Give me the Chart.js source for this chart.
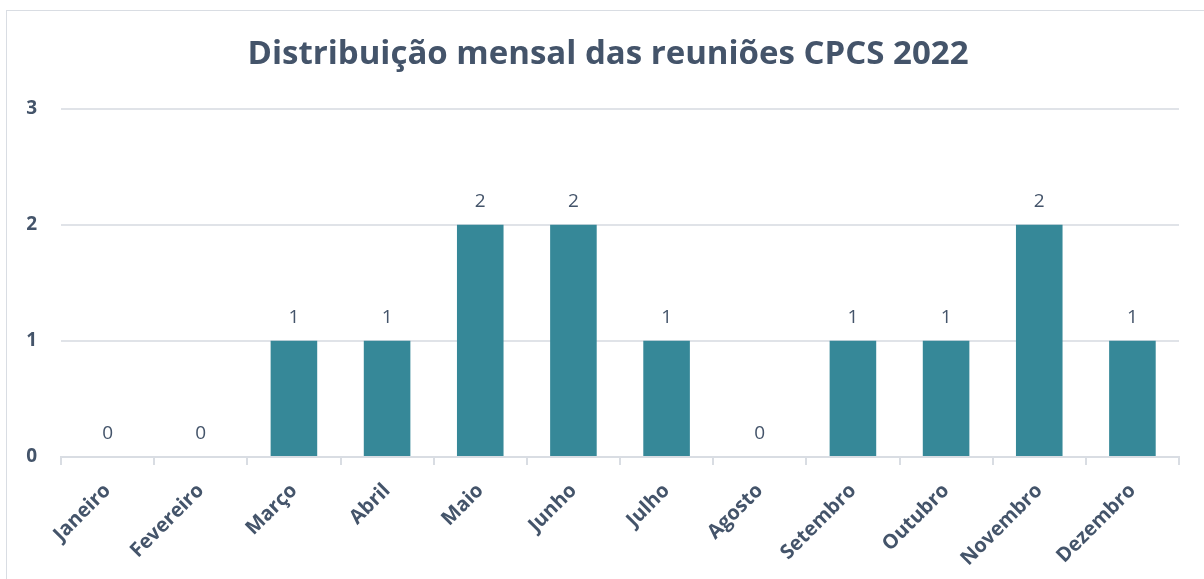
<!DOCTYPE html>
<html>
<head>
<meta charset="utf-8">
<script src="https://cdn.jsdelivr.net/npm/chart.js@4/dist/chart.umd.min.js"></script>
<style>
  html, body { margin: 0; padding: 0; background: #fff; overflow: hidden; }
  #frame { position: absolute; left: 6px; top: 10px; width: 1300px; height: 700px; border: 1px solid #d9dde3; }
  #wrap { position: absolute; left: 0; top: 0; width: 1204px; height: 579px; }
</style>
</head>
<body>
<div id="frame"></div>
<div id="wrap"><canvas id="myChart" width="1204" height="579"></canvas></div>
<script>
// monthly CPCS meetings, 2022
const months = ['Janeiro', 'Fevereiro', 'Março', 'Abril', 'Maio', 'Junho', 'Julho', 'Agosto', 'Setembro', 'Outubro', 'Novembro', 'Dezembro'];
const meetings = [0, 0, 1, 1, 2, 2, 1, 0, 1, 1, 2, 1];
const yTicks = [0, 1, 2, 3];

const textColor = '#44546A';
const barColor = '#368898';

// draws the value above every bar
const valueLabels = {
    id: 'valueLabels',
    afterDatasetsDraw(chart) {
        const ctx = chart.ctx;
        const meta = chart.getDatasetMeta(0);
        ctx.save();
        ctx.font = '19px "Open Sans"';
        ctx.fillStyle = textColor;
        ctx.textAlign = 'center';
        ctx.textBaseline = 'alphabetic';
        meta.data.forEach((bar, i) => {
            ctx.fillText(String(meetings[i]), bar.x, bar.y - 18);
        });
        ctx.restore();
    }
};

const ctx = document.getElementById('myChart').getContext('2d');
const myChart = new Chart(ctx, {
    type: 'bar',
    data: {
        labels: months,
        datasets: [{
            label: 'Reuniões',
            data: meetings,
            backgroundColor: barColor,
            borderWidth: 0,
            barPercentage: 0.5,
            categoryPercentage: 1.0
        }]
    },
    options: {
        responsive: false,
        animation: false,
        layout: {
            padding: { left: 12, right: 0, top: 0, bottom: 0 }
        },
        plugins: {
            legend: { display: false },
            tooltip: { enabled: false },
            title: {
                display: true,
                text: 'Distribuição mensal das reuniões CPCS 2022',
                color: textColor,
                font: { family: '"Open Sans"', size: 33, weight: 'bold' },
                padding: { top: 35, bottom: 34 }
            }
        },
        scales: {
            x: {
                grid: {
                    display: true,
                    drawOnChartArea: false,
                    drawTicks: true,
                    tickLength: 8,
                    color: '#d9dde3',
                    lineWidth: 2
                },
                border: { color: '#d9dde3', width: 2 },
                ticks: {
                    color: textColor,
                    font: { family: '"Open Sans"', size: 20, weight: 'bold' },
                    minRotation: 45,
                    maxRotation: 45,
                    padding: 14
                },
                afterFit(scale) { scale.height = 122; }
            },
            y: {
                min: 0,
                max: 3,
                afterBuildTicks(scale) {
                    scale.ticks = yTicks.map(v => ({ value: v }));
                },
                grid: {
                    drawTicks: false,
                    color: '#e0e3e8',
                    lineWidth: 2
                },
                border: { display: false },
                ticks: {
                    color: textColor,
                    font: { family: '"Open Sans"', size: 19, weight: 'bold' },
                    padding: 24
                },
                afterFit(scale) { scale.width = 49; }
            },
            // empty right-hand axis, only reserves the space on the right
            yRight: {
                position: 'right',
                min: 0,
                max: 3,
                grid: { display: false },
                border: { display: false },
                ticks: { display: false },
                afterFit(scale) { scale.width = 25; }
            }
        }
    },
    plugins: [valueLabels]
});
</script>
</body>
</html>
